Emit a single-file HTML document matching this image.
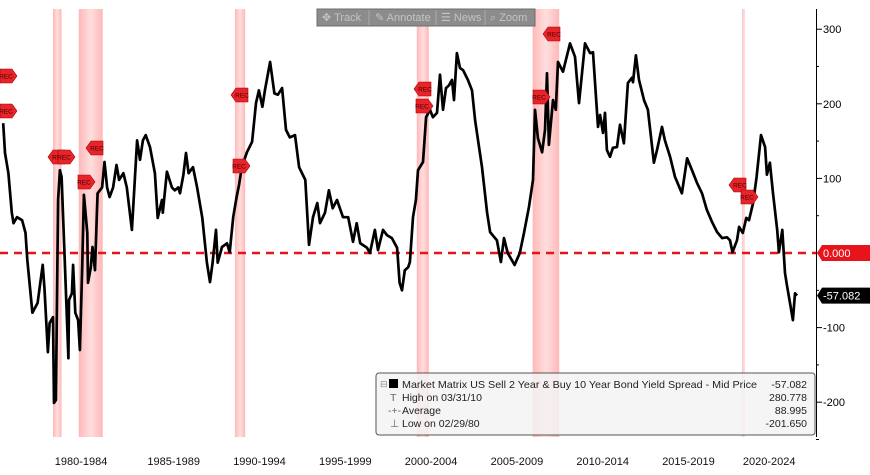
<!DOCTYPE html>
<html><head><meta charset="utf-8"><style>
body{margin:0;background:#fff;width:870px;height:470px;overflow:hidden;font-family:"Liberation Sans",sans-serif}
svg text{font-family:"Liberation Sans",sans-serif}
</style></head><body>
<svg id="chart" width="870" height="470">
<defs><linearGradient id="rg" x1="0" x2="1"><stop offset="0" stop-color="#ffb8b8"/><stop offset="0.5" stop-color="#ffdede"/><stop offset="1" stop-color="#ffb8b8"/></linearGradient></defs>
<g id="bands"></g>
<g id="grid"></g>
<g id="series"></g>
<g id="recs"></g>
<g id="axis"></g>
<g id="xaxis"></g>
<g>
<rect x="317" y="9" width="218" height="17" fill="#8c8c8c" stroke="#6c6c6c"/>
<g fill="#c4c4c4" font-size="11">
<text x="322" y="21">✥ Track</text>
<text x="375" y="21">✎ Annotate</text>
<text x="441" y="21">☰ News</text>
<text x="490" y="21">⌕ Zoom</text>
</g>
<line x1="369" y1="10" x2="369" y2="25" stroke="#aaa"/><line x1="436" y1="10" x2="436" y2="25" stroke="#aaa"/><line x1="485" y1="10" x2="485" y2="25" stroke="#aaa"/>
</g>
<g>
<rect x="376" y="373" width="439" height="62" rx="3" fill="#f3f3f3" fill-opacity="0.85" stroke="#555"/>
<g font-size="10.5" fill="#222">
<text x="380" y="387" font-size="9" fill="#888">⊟</text>
<rect x="389" y="379" width="9" height="9" fill="#000"/>
<text x="402" y="388" textLength="355" lengthAdjust="spacingAndGlyphs">Market Matrix US Sell 2 Year &amp; Buy 10 Year Bond Yield Spread - Mid Price</text>
<text x="807" y="388" text-anchor="end">-57.082</text>
<text x="390" y="401" fill="#666">T</text><text x="402" y="401">High on 03/31/10</text><text x="807" y="401" text-anchor="end">280.778</text>
<text x="388" y="414" fill="#666">-+-</text><text x="402" y="414">Average</text><text x="807" y="414" text-anchor="end">88.995</text>
<text x="390" y="427" fill="#666">⊥</text><text x="402" y="427">Low on 02/29/80</text><text x="807" y="427" text-anchor="end">-201.650</text>
</g></g>
</svg>
<script>
const dates=[1977.1,1977.2,1977.4,1977.6,1977.7,1977.9,1978.2,1978.4,1978.5,1978.8,1979.1,1979.2,1979.4,1979.5,1979.7,1979.8,1980.0,1980.06,1980.17,1980.3,1980.4,1980.5,1980.7,1980.9,1980.93,1981.1,1981.17,1981.3,1981.46,1981.57,1981.7,1981.8,1982.0,1982.04,1982.2,1982.3,1982.45,1982.56,1982.6,1982.86,1983.0,1983.15,1983.3,1983.5,1983.7,1983.85,1984.1,1984.3,1984.6,1984.9,1985.07,1985.24,1985.4,1985.65,1985.94,1986.1,1986.35,1986.4,1986.64,1986.93,1987.1,1987.3,1987.4,1987.6,1987.75,1987.9,1988.16,1988.4,1988.7,1988.97,1989.15,1989.3,1989.5,1989.6,1989.85,1990.14,1990.3,1990.5,1990.7,1990.84,1991.0,1991.3,1991.6,1991.83,1992.0,1992.2,1992.35,1992.65,1992.9,1993.1,1993.35,1993.58,1993.8,1994.1,1994.34,1994.7,1994.92,1995.15,1995.4,1995.56,1995.85,1996.08,1996.3,1996.55,1996.9,1997.2,1997.48,1997.7,1997.9,1998.3,1998.47,1998.76,1998.94,1999.23,1999.46,1999.75,2000.05,2000.2,2000.34,2000.5,2000.7,2000.8,2000.98,2001.15,2001.27,2001.56,2001.74,2001.97,2002.14,2002.38,2002.55,2002.73,2002.9,2003.08,2003.25,2003.37,2003.54,2003.72,2003.9,2004.18,2004.42,2004.6,2005.0,2005.3,2005.47,2005.87,2006.1,2006.28,2006.5,2006.9,2007.2,2007.45,2007.74,2007.97,2008.09,2008.26,2008.5,2008.67,2008.79,2008.9,2009.14,2009.3,2009.43,2009.72,2010.13,2010.42,2010.65,2011.0,2011.3,2011.47,2011.76,2011.88,2012.05,2012.17,2012.28,2012.46,2012.63,2012.87,2013.04,2013.27,2013.5,2013.74,2013.8,2013.97,2014.15,2014.44,2014.67,2015.02,2015.2,2015.49,2015.66,2015.96,2016.25,2016.65,2016.95,2017.24,2017.53,2017.82,2018.1,2018.4,2018.7,2019.0,2019.28,2019.45,2019.6,2019.86,2019.98,2020.2,2020.4,2020.56,2020.8,2021.0,2021.26,2021.5,2021.6,2021.78,2021.96,2022.2,2022.3,2022.5,2022.66,2022.77,2022.95,2023.12,2023.24,2023.36];
const values=[174,134,107,54,40,48,44,27,-9,-80,-67,-50,-16,-46,-133,-94,-86,-201,-197,71,111,102,-19,-141,-63,-54,-16,-80,-90,-130,-19,78,27,-40,-19,8,-23,54,80,88,122,88,75,88,118,98,107,88,31,151,125,151,158,142,107,47,71,54,109,88,84,88,80,105,134,107,115,88,47,-13,-39,-13,31,-13,8,13,1,48,75,91,115,135,149,201,218,196,218,256,214,212,221,165,155,158,115,98,11,48,67,40,54,84,60,71,48,48,15,40,13,7,0,31,4,31,24,20,7,-40,-50,-23,-19,-12,48,71,111,122,182,192,182,188,239,192,221,225,232,205,268,248,245,232,218,178,115,54,28,17,-12,20,0,-16,0,27,62,98,192,154,135,165,241,145,205,192,256,243,281,263,201,281,268,269,169,185,161,188,138,129,141,142,172,147,228,235,229,265,232,205,192,121,138,169,151,129,102,80,127,111,94,80,58,42,28,20,21,17,1,17,35,27,47,44,67,102,158,142,105,121,80,31,1,31,-27,-43,-67,-90,-54,-57];
const recStart=[1980.0,1981.5,1990.6,2001.2,2007.95,2020.15];
const recEnd=[1980.5,1982.9,1991.2,2001.9,2009.5,2020.3];
const yTicks=[300,200,100,0,-100,-200];
const xLabels=["1980-1984","1985-1989","1990-1994","1995-1999","2000-2004","2005-2009","2010-2014","2015-2019","2020-2024"];
const xLabelYears=[1982.1,1987.5,1992.5,1997.5,2002.5,2007.5,2012.5,2017.5,2022.2];
const lastValue=-57.082;
const NS="http://www.w3.org/2000/svg";
const X=yr=>53+(yr-1980)*17.16;
const Y=v=>253-v*0.746;
function mk(t,a,p){const e=document.createElementNS(NS,t);for(const k in a)e.setAttribute(k,a[k]);p.appendChild(e);return e;}
const bands=document.getElementById('bands');
recStart.forEach((s,i)=>{const r=mk('rect',{x:X(s),y:9,width:Math.max(2,X(recEnd[i])-X(s)),height:428,fill:'url(#rg)'},bands);

});
const grid=document.getElementById('grid');
const zl=mk('line',{x1:0,x2:816,y1:Y(0),y2:Y(0),stroke:'#e8141b','stroke-width':2.5,'stroke-dasharray':'8,6'},grid);


const ser=document.getElementById('series');
const path=mk('path',{d:dates.map((d,i)=>(i?'L':'M')+X(d).toFixed(1)+','+Y(values[i]).toFixed(1)).join(''),fill:'none',stroke:'#000','stroke-width':2.7,'stroke-linejoin':'round'},ser);


const ax=document.getElementById('axis');
mk('line',{x1:816.5,x2:816.5,y1:9,y2:437,stroke:'#000'},ax);
for(let v=-250;v<=300;v+=50){mk('line',{x1:816,x2:v%100===0?822:819,y1:Y(v),y2:Y(v),stroke:'#000'},ax);}
yTicks.forEach(v=>{const t=mk('text',{x:823,y:Y(v)+4,'font-size':11,fill:'#000'},ax);t.textContent=v;

});
const zb=mk('path',{d:`M817,${Y(0)} L822,${Y(0)-8} L870,${Y(0)-8} L870,${Y(0)+8} L822,${Y(0)+8}Z`,fill:'#e8141b'},ax);


const zt=mk('text',{x:823,y:Y(0)+4,'font-size':11,fill:'#fff'},ax);zt.textContent='0.000';
const yl=Y(lastValue);
const lb=mk('path',{d:`M817,${yl} L822,${yl-8} L870,${yl-8} L870,${yl+8} L822,${yl+8}Z`,fill:'#000'},ax);


const lt=mk('text',{x:823,y:yl+4,'font-size':11,fill:'#fff'},ax);lt.textContent=lastValue.toFixed(3);
const xa=document.getElementById('xaxis');
xLabels.forEach((l,i)=>{const t=mk('text',{x:X(xLabelYears[i])-8,y:465,'font-size':11,'text-anchor':'middle',fill:'#111'},xa);t.textContent=l;

});
const recMarks=[[0,76,1],[0,111,1],[48,157,0],[58,157,1],[78,182,1],[86,148,0],[231,95,0],[233,166,1],[414,89,0],[416,106,1],[533,97,1],[543,34,0],[729,185,0],[741,197,1]];
const rg=document.getElementById('recs');
recMarks.forEach(m=>{const [x,y,r]=m;const d=r?`M${x},${y-7}h12l5,7l-5,7h-12z`:`M${x+17},${y-7}h-12l-5,7l5,7h12z`;
const p=mk('path',{d,fill:'#e8242b',stroke:'#a00','stroke-width':0.6},rg);


const t=mk('text',{x:x+(r?6:11),y:y+2.5,'font-size':6.5,'text-anchor':'middle',fill:'#400'},rg);t.textContent='REC';});
</script>
</body></html>
